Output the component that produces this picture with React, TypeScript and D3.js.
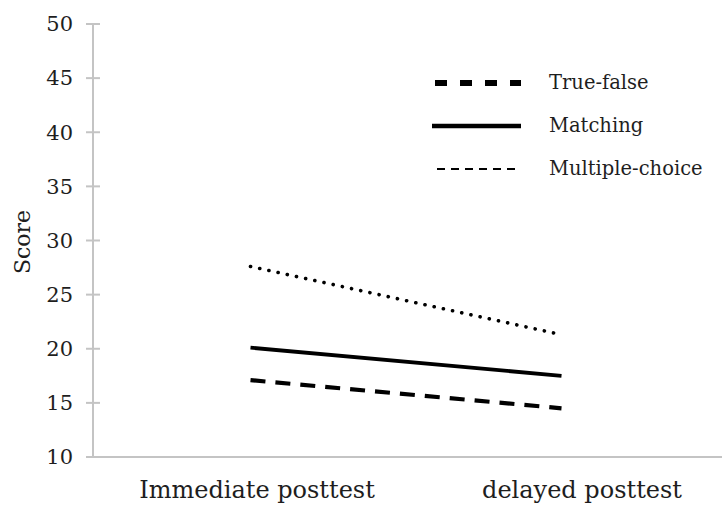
import React from "react";
import * as d3 from "d3";

const categories = ["Immediate posttest", "delayed posttest"];
const trueFalse = [17.1, 14.5];
const matching = [20.1, 17.5];
const multipleChoice = [27.6, 21.3];
const yTicks = [10, 15, 20, 25, 30, 35, 40, 45, 50];

const W = 722;
const H = 505;
const FONT = "DejaVu Serif";

export default function App() {
  const y = d3.scaleLinear().domain([10, 50]).range([457, 24]);
  const x = d3.scalePoint<string>().domain(categories).range([95, 717]).padding(0.5);
  const line = d3
    .line<number>()
    .x((_, i) => x(categories[i]) as number)
    .y((d) => y(d));

  const series = [
    { name: "True-false", values: trueFalse, width: 4.2, dash: "15 10", cap: "butt", legendDash: "12 13", legendWidth: 6, lx1: 435 },
    { name: "Matching", values: matching, width: 3.8, dash: "none", cap: "butt", legendDash: "none", legendWidth: 4.5, lx1: 432 },
    { name: "Multiple-choice", values: multipleChoice, width: 3.6, dash: "0.1 9.3", cap: "round", legendDash: "8 6", legendWidth: 1.8, lx1: 437 },
  ];
  const labelX = [257, 582];
  const textStyle = { fontFamily: FONT } as React.CSSProperties;

  return (
    <svg width={W} height={H} style={{ position: "absolute", left: 0, top: 0, background: "#fff" }}>
      {/* axes */}
      <line x1={93} x2={93} y1={y(50)} y2={y(10)} stroke="#c4c4c4" strokeWidth={2} />
      <line x1={93} x2={W} y1={y(10)} y2={y(10)} stroke="#c4c4c4" strokeWidth={2} />
      {yTicks.map((t) => (
        <g key={t}>
          <line x1={86} x2={100} y1={y(t)} y2={y(t)} stroke="#c4c4c4" strokeWidth={2} />
          <text x={73} y={y(t)} dy="0.35em" textAnchor="end" style={textStyle} fontSize={21} fill="#1e1e1e">
            {t}
          </text>
        </g>
      ))}
      <text
        transform={`translate(22,${242}) rotate(-90)`}
        textAnchor="middle"
        dy="0.35em"
        style={textStyle}
        fontSize={22}
        fill="#1e1e1e"
      >
        Score
      </text>
      {categories.map((c, i) => (
        <text key={c} x={labelX[i]} y={498} textAnchor="middle" style={textStyle} fontSize={24} fill="#1e1e1e">
          {c}
        </text>
      ))}
      {/* data lines */}
      {series.map((s) => (
        <path
          key={s.name}
          d={line(s.values) || ""}
          fill="none"
          stroke="#000"
          strokeWidth={s.width}
          strokeDasharray={s.dash}
          strokeLinecap={s.cap as any}
        />
      ))}
      {/* legend */}
      {series.map((s, i) => {
        const ly = 83 + i * 43;
        return (
          <g key={s.name}>
            <line x1={s.lx1} x2={521} y1={ly} y2={ly} stroke="#000" strokeWidth={s.legendWidth} strokeDasharray={s.legendDash} />
            <text x={549} y={ly} dy="0.33em" style={textStyle} fontSize={19.5} fill="#1e1e1e">
              {s.name}
            </text>
          </g>
        );
      })}
    </svg>
  );
}
